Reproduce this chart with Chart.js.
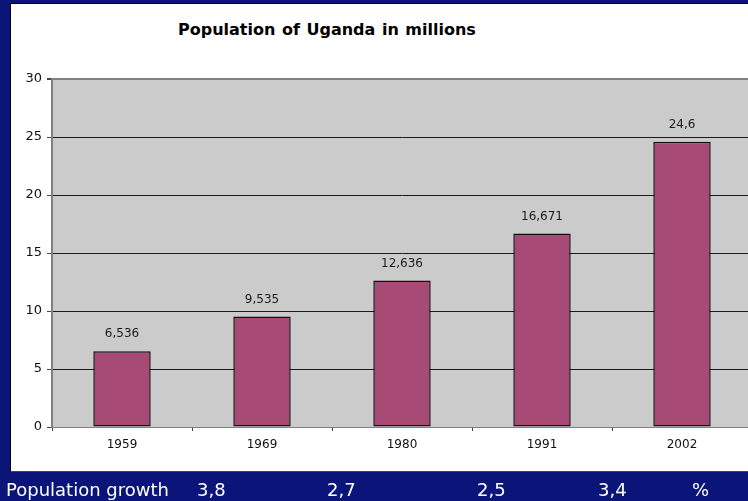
<!DOCTYPE html>
<html>
<head>
<meta charset="utf-8">
<script src="https://cdn.jsdelivr.net/npm/chart.js@4.4.1/dist/chart.umd.min.js"></script>
<style>
  html, body { margin: 0; padding: 0; }
  body { width: 748px; height: 501px; overflow: hidden; background: #0b1579; position: relative; font-family: "DejaVu Sans", sans-serif; }
  #panel { position: absolute; left: 10px; top: 3px; width: 760px; height: 469px; box-sizing: border-box; background: #fff; border: 1px solid #000; border-bottom-color: #444; }
  #title { position: absolute; left: 178px; top: 20px; font-weight: bold; font-size: 16px; color: #000; word-spacing: 1px; white-space: nowrap; }
  #chart { position: absolute; left: 0; top: 0; }
  #growth { position: absolute; left: 0; top: 481px; width: 748px; height: 20px; color: #fff; font-size: 18px; line-height: 18px; }
  #growth span { position: absolute; top: 0; white-space: nowrap; }
</style>
</head>
<body>
<div id="panel"></div>
<div id="title">Population of Uganda in millions</div>
<canvas id="chart" width="760" height="501"></canvas>
<div id="growth"></div>
<script>
const years = ["1959", "1969", "1980", "1991", "2002"];
const population = [6.536, 9.535, 12.636, 16.671, 24.6];
const popLabels = ["6,536", "9,535", "12,636", "16,671", "24,6"];
const growthLabel = "Population growth";
const growthRates = ["3,8", "2,7", "2,5", "3,4"];
const growthUnit = "%";

// bottom line of text under the chart
const growthBox = document.querySelector("#growth");
const growthX = [197, 327, 477, 598];
function addSpan(text, x) {
    const s = document.createElement("span");
    s.textContent = text;
    s.style.left = x + "px";
    growthBox.appendChild(s);
}
addSpan(growthLabel, 6);
growthRates.forEach((g, i) => addSpan(g, growthX[i]));
addSpan(growthUnit, 692);

const plotBackground = {
    id: "plotBackground",
    beforeDraw(chart) {
        const { ctx, chartArea: a } = chart;
        ctx.save();
        ctx.fillStyle = "#cbcbcb";
        ctx.fillRect(a.left, a.top, a.right - a.left, a.bottom - a.top);
        ctx.restore();
    },
};

const valueLabels = {
    id: "valueLabels",
    afterDatasetsDraw(chart) {
        const ctx = chart.ctx;
        const meta = chart.getDatasetMeta(0);
        ctx.save();
        ctx.font = "12px 'DejaVu Sans'";
        ctx.fillStyle = "#1a1a1a";
        ctx.textAlign = "center";
        ctx.textBaseline = "middle";
        meta.data.forEach((bar, i) => {
            ctx.fillText(popLabels[i], bar.x, bar.y - 17);
        });
        ctx.restore();
    },
};

Chart.defaults.font.family = "'DejaVu Sans', sans-serif";
Chart.defaults.color = "#111";

const ctx = document.querySelector("#chart").getContext("2d");
const chart = new Chart(ctx, {
    type: "bar",
    data: {
        labels: years,
        datasets: [{
            data: population,
            backgroundColor: "#a84a76",
            borderColor: "#111",
            borderWidth: 1.5,
            borderSkipped: false,
            barPercentage: 0.41,
            categoryPercentage: 1,
        }],
    },
    options: {
        responsive: false,
        animation: false,
        layout: { padding: { left: 0, right: 8, top: 79, bottom: 44 } },
        plugins: { legend: { display: false }, tooltip: { enabled: false } },
        scales: {
            x: {
                offset: true,
                grid: { offset: true, drawOnChartArea: false, drawTicks: true, tickLength: 4, tickColor: "#444" },
                border: { color: "#808080", width: 1 },
                ticks: { font: { size: 12 }, padding: 7, color: "#111" },
                afterFit(scale) { scale.height = 30; },
            },
            y: {
                min: 0,
                max: 30,
                ticks: { stepSize: 5, font: { size: 13 }, padding: 5, color: "#111" },
                grid: {
                    color: (c) => (c.tick && (c.tick.value === 30 || c.tick.value === 0)) ? "#808080" : "#1a1a1a",
                    lineWidth: (c) => (c.tick && c.tick.value === 30) ? 2 : 1,
                    tickLength: 5,
                    tickColor: "#444",
                },
                border: { color: "#808080", width: 2 },
                afterFit(scale) { scale.width = 52; },
            },
        },
    },
    plugins: [plotBackground, valueLabels],
});
</script>
</body>
</html>
